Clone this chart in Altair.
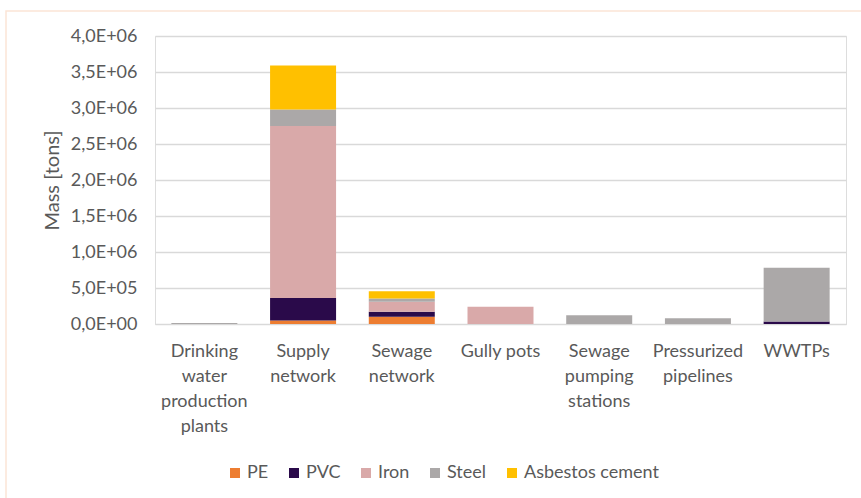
import altair as alt
import pandas as pd

categories = ["Drinking water production plants", "Supply network", "Sewage network",
              "Gully pots", "Sewage pumping stations", "Pressurized pipelines", "WWTPs"]
materials = ["PE", "PVC", "Iron", "Steel", "Asbestos cement"]
colors = ["#ED7D31", "#2A0A4A", "#D9A9A9", "#ABA8A8", "#FFC000"]

pe       = [0,      50000,   100000, 0,      0,      0,     0]
pvc      = [0,      310000,  70000,  0,      0,      0,     35000]
iron     = [0,      2390000, 140000, 240000, 0,      0,     0]
steel    = [15000,  230000,  45000,  0,      120000, 80000, 745000]
asbestos = [0,      610000,  100000, 0,      0,      0,     0]

series = {"PE": pe, "PVC": pvc, "Iron": iron, "Steel": steel, "Asbestos cement": asbestos}
rows = []
for m_i, m in enumerate(materials):
    for c_i, c in enumerate(categories):
        rows.append({"category": c, "material": m, "value": series[m][c_i], "order": m_i})
df = pd.DataFrame(rows)

FONT = "Lato"
TXT = "#595959"

bars = alt.Chart(df).mark_bar(size=66).encode(
    x=alt.X("category:N", sort=categories, title=None,
            axis=alt.Axis(labelAngle=0, labelFontSize=18, labelColor=TXT, labelFont=FONT,
                          labelPadding=18, ticks=False, domainColor="#D9D9D9",
                          labelLineHeight=25, labelBaseline="top",
                          labelExpr="datum.label == 'Gully pots' ? datum.label : split(datum.label, ' ')")),
    y=alt.Y("value:Q", stack="zero", title="Mass [tons]",
            scale=alt.Scale(domain=[0, 4000000], nice=False),
            axis=alt.Axis(values=[i * 500000 for i in range(9)], labelFontSize=18, labelColor=TXT,
                          labelFont=FONT, titleFont=FONT, titleFontSize=20, titleColor=TXT,
                          titleFontWeight="normal", titlePadding=8, labelPadding=18,
                          domain=False, ticks=False, gridColor="#D9D9D9", gridWidth=1.5,
                          labelExpr="replace(replace(format(datum.value, '.1e'), '.', ','), 'e+', 'E+0')")),
    color=alt.Color("material:N", sort=materials,
                    scale=alt.Scale(domain=materials, range=colors),
                    legend=alt.Legend(title=None, orient="none", direction="horizontal",
                                      legendX=71, legendY=428, symbolType="square",
                                      symbolSize=100, labelFontSize=18, labelColor=TXT, labelFont=FONT,
                                      columnPadding=16, labelOffset=3, symbolStrokeWidth=0)),
    order=alt.Order("order:Q", sort="ascending"),
)

frame = alt.Chart(pd.DataFrame({"a": [0]})).mark_rect(
    fill=None, stroke="#FBE5D6", strokeWidth=1.5
).encode(x=alt.value(-149), x2=alt.value(760), y=alt.value(-25), y2=alt.value(500))

chart = alt.layer(frame, bars).properties(
    width=691, height=288,
    autosize=alt.AutoSizeParams(type="none"),
    padding={"left": 155, "top": 36, "right": 15, "bottom": 174},
).configure_view(stroke="#FBE5D6", strokeWidth=1.5).configure(background="white")

chart.save("out.html", embed_options={"renderer": "svg", "actions": False})
